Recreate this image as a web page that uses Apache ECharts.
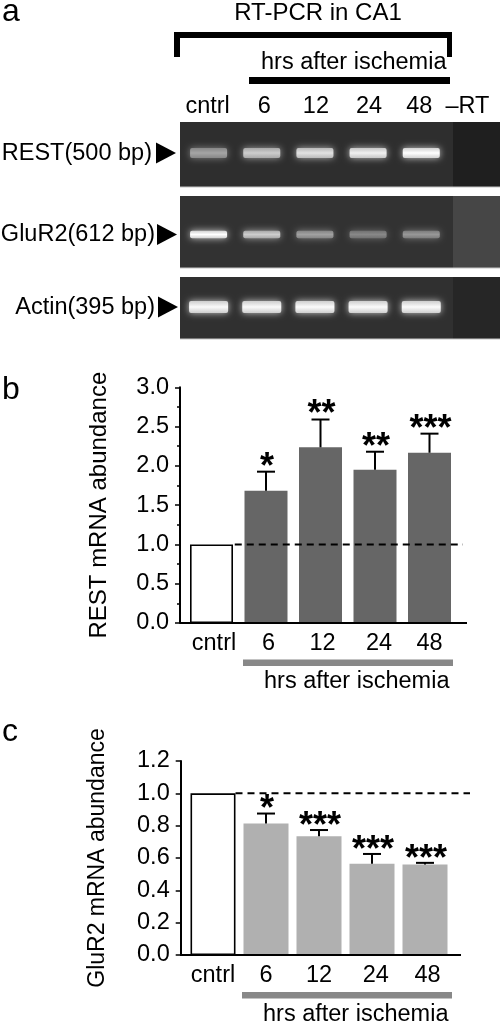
<!DOCTYPE html>
<html><head><meta charset="utf-8">
<style>html,body{margin:0;padding:0;background:#fff}#c{width:501px;height:1025px}</style>
<script src="https://cdn.jsdelivr.net/npm/echarts@6/dist/echarts.min.js"></script>
</head><body><div id="c"></div>
<script>
// ---- data ----
const lanes = ['cntrl','6','12','24','48','\u2013RT'];
const gelNames = ['REST(500 bp)','GluR2(612 bp)','Actin(395 bp)'];
const restGel  = [0.5,0.72,0.84,0.92,1.0,0];
const glur2Gel = [1.0,0.72,0.48,0.34,0.42,0];
const actinGel = [0.97,0.97,0.98,0.98,0.98,0];
const groups = ['cntrl','6','12','24','48'];
const restMean = [1.0,1.684,2.236,1.95,2.167];
const restErr  = [null,1.926,2.59,2.18,2.41];
const restStars= ['','*','**','**','***'];
const gluMean  = [1.0,0.813,0.735,0.564,0.56];
const gluErr   = [null,0.875,0.773,0.625,0.57];
const gluStars = ['','*','***','***','***'];
const restTicks = {min:0,max:3,interval:0.5};
const gluTicks  = {min:0,max:1.2,interval:0.2};
// ---- style ----
const FONT='"Liberation Sans",Arial,sans-serif', FS=23.5;
const gelRows=[
 {top:122,bottom:187,band:153,h:10,bg:'#2e2e2e',rt:'#1f1f1f',w:37},
 {top:196,bottom:268,band:234.5,h:7.5,bg:'#323232',rt:'#464646',w:37},
 {top:277,bottom:339,band:307,h:12,bg:'#303030',rt:'#262626',w:39}];
const gelRt=453, gelRight=500;

function gelItem(p,api){
  const lane=api.value(0), row=gelRows[api.value(1)], v=api.value(2);
  const x=api.coord([lane,0])[0], ch=[];
  if(v>0){
    const g=Math.round(75+180*v), c=Math.round(g*0.82);
    const core='rgb('+g+','+g+','+g+')', edge='rgb('+c+','+c+','+c+')';
    ch.push({type:'rect',shape:{x:x-row.w/2,y:row.band-row.h/2,width:row.w,height:row.h,r:2},
      style:{fill:{type:'linear',x:0,y:0,x2:0,y2:1,colorStops:[{offset:0,color:edge},{offset:0.5,color:core},{offset:1,color:edge}]},
      shadowBlur:7,shadowColor:'rgba('+c+','+c+','+c+',0.95)'}});
  }
  return {type:'group',children:ch};
}
function gelBg(p,api){
  const row=gelRows[api.value(1)], edge={stroke:'#c4c4c4',lineWidth:1};
  return {type:'group',children:[
    {type:'rect',shape:{x:180,y:row.top,width:gelRt-180,height:row.bottom-row.top},style:{fill:row.bg}},
    {type:'rect',shape:{x:gelRt,y:row.top,width:gelRight-gelRt,height:row.bottom-row.top},style:{fill:row.rt}},
    {type:'line',shape:{x1:180,y1:row.bottom,x2:gelRight,y2:row.bottom},style:edge}]};
}
function gelLabel(p,api){
  const row=gelRows[api.value(0)];
  const ends=[152,155,155], ax=[156,157,158];
  return {type:'group',children:[
    {type:'text',style:{text:gelNames[api.value(0)],x:ends[api.value(0)],y:row.band+0.5,align:'right',verticalAlign:'middle',font:FS+'px '+FONT,fill:'#000'}},
    {type:'polygon',shape:{points:[[ax[api.value(0)],row.band-10.5],[ax[api.value(0)]+20,row.band],[ax[api.value(0)],row.band+10.5]]},style:{fill:'#000'}}]};
}
function errItem(stars,up){return function(p,api){
  const i=api.value(0), top=api.value(2);
  if(!top) return null;
  const a=api.coord([i,api.value(1)]), b=api.coord([i,top]), s=stars[i];
  const st={stroke:'#000',lineWidth:2,fill:null};
  return {type:'group',children:[
    {type:'line',shape:{x1:a[0],y1:a[1],x2:a[0],y2:b[1]},style:st},
    {type:'line',shape:{x1:a[0]-9,y1:b[1],x2:a[0]+9,y2:b[1]},style:st},
    {type:'text',style:{text:s,x:a[0]+1,y:b[1]-up,align:'center',verticalAlign:'middle',font:'bold 36px '+FONT,fill:'#000'}}]};
};}
function frameItem(dashEnd,base){return function(p,api){
  const y1=api.coord([0,1])[1], y0=api.coord([0,0])[1];
  const half=api.size([1,0])[0]/2, x=api.coord([0,1])[0]+half;
  return {type:'group',children:[
    {type:'line',shape:{x1:x-4,y1:y1,x2:dashEnd,y2:y1},style:{stroke:'#000',lineWidth:2,lineDash:[7,5]}},
    {type:'line',shape:{x1:base[0],y1:y0,x2:base[1],y2:y0},style:{stroke:'#000',lineWidth:2}}]};
};}
function axisLabel(shifts,margin){
  const rich={};
  shifts.forEach((s,i)=>{rich['s'+i]={fontSize:FS,fontFamily:FONT,color:'#000',padding:s>=0?[0,0,0,2*s]:[0,-2*s,0,0]};});
  return {margin:margin,color:'#000',fontSize:FS,fontFamily:FONT,interval:0,rich,
    formatter:(v,i)=>'{s'+i+'|'+v+'}'};
}
const yLabel={color:'#000',fontSize:FS,fontFamily:FONT,margin:11,formatter:v=>v.toFixed(1)};
const txt=(t,x,y,align,size)=>({type:'text',x:x,y:y,style:{text:t,align:align||'left',verticalAlign:'middle',font:(size||FS)+'px '+FONT,fill:'#000'}});
const blk=(x,y,w,h,c)=>({type:'rect',shape:{x:x,y:y,width:w,height:h},style:{fill:c||'#000'}});

const chart=echarts.init(document.getElementById('c'),null,{renderer:'canvas'});
chart.setOption({
  animation:false,backgroundColor:'#fff',
  grid:[
    {left:182,top:122,width:321,height:217},
    {left:184.25,top:387.3,width:272.5,height:235.7},
    {left:186.5,top:761,width:265,height:194}],
  xAxis:[
    {gridIndex:0,type:'category',position:'top',data:lanes,axisLine:{show:false},axisTick:{show:false},
      axisLabel:axisLabel([-1,2.5,1,1,-2,-7],3)},
    {gridIndex:1,type:'category',data:groups,axisLine:{lineStyle:{color:'#000',width:2}},axisTick:{show:false},
      axisLabel:axisLabel([2.5,2.5,2,4,0],9)},
    {gridIndex:2,type:'category',data:groups,axisLine:{lineStyle:{color:'#000',width:2}},axisTick:{show:false},
      axisLabel:axisLabel([0,0,0,3.7,2.5],9)}],
  yAxis:[
    {gridIndex:0,type:'value',min:0,max:1,show:false},
    {gridIndex:1,type:'value',...restTicks,offset:4.25,name:'REST mRNA abundance',nameLocation:'middle',nameGap:62,
      nameTextStyle:{color:'#000',fontSize:24,fontFamily:FONT,padding:[0,0,7,0]},
      axisLine:{show:true,lineStyle:{color:'#000',width:2}},axisTick:{show:true,length:5,lineStyle:{color:'#000',width:1.5}},
      minorTick:{show:true,splitNumber:2,length:3,lineStyle:{color:'#000',width:1.5}},splitLine:{show:false},axisLabel:yLabel},
    {gridIndex:2,type:'value',...gluTicks,offset:5.8,name:'GluR2 mRNA abundance',nameLocation:'middle',nameGap:67,
      nameTextStyle:{color:'#000',fontSize:23,fontFamily:FONT,padding:[0,0,5,0]},
      axisLine:{show:true,lineStyle:{color:'#000',width:2}},axisTick:{show:true,length:5,lineStyle:{color:'#000',width:1.5}},
      splitLine:{show:false},axisLabel:yLabel}],
  graphic:{elements:[
    txt('a',2,12,'left',32),txt('b',2,390,'left',32),txt('c',2,732,'left',32),
    txt('RT-PCR in CA1',318,13,'center',24),
    blk(174,32,278,6),blk(174,32,6,25),blk(447,32,5,25),
    txt('hrs after ischemia',261,63),blk(249,77,201,7),
    blk(243,659.5,210,6.5,'#888'),txt('hrs after ischemia',264,682),
    blk(242,992,210,6.5,'#888'),txt('hrs after ischemia',263,1015)]},
  series:[
    {type:'custom',xAxisIndex:0,yAxisIndex:0,coordinateSystem:'cartesian2d',renderItem:gelBg,data:[[0,0],[0,1],[0,2]],silent:true,z:1},
    {type:'custom',xAxisIndex:0,yAxisIndex:0,renderItem:gelItem,silent:true,z:2,
      data:[restGel,glur2Gel,actinGel].flatMap((r,j)=>r.map((v,i)=>[i,j,v]))},
    {type:'custom',xAxisIndex:0,yAxisIndex:0,renderItem:gelLabel,silent:true,z:3,data:[[0],[1],[2]],encode:{x:-1,y:-1}},
    {type:'bar',xAxisIndex:1,yAxisIndex:1,barWidth:43,z:2,
      data:restMean.map((v,i)=>i===0?{value:v,itemStyle:{color:'#fff',borderColor:'#000',borderWidth:1.6}}:{value:v,itemStyle:{color:'#666'}})},
    {type:'custom',xAxisIndex:1,yAxisIndex:1,z:3,renderItem:errItem(restStars,4),
      data:restMean.map((v,i)=>[i,v,restErr[i]])},
    {type:'custom',xAxisIndex:1,yAxisIndex:1,z:4,renderItem:frameItem(463,[180,467]),data:[[0,1]]},
    {type:'bar',xAxisIndex:2,yAxisIndex:2,barWidth:45,z:2,
      data:gluMean.map((v,i)=>i===0?{value:v,itemStyle:{color:'#fff',borderColor:'#000',borderWidth:1.6}}:{value:v,itemStyle:{color:'#b0b0b0'}})},
    {type:'custom',xAxisIndex:2,yAxisIndex:2,z:3,renderItem:errItem(gluStars,3),
      data:gluMean.map((v,i)=>[i,v,gluErr[i]])},
    {type:'custom',xAxisIndex:2,yAxisIndex:2,z:4,renderItem:frameItem(470,[180,461]),data:[[0,1]]}
  ]
});
</script></body></html>
